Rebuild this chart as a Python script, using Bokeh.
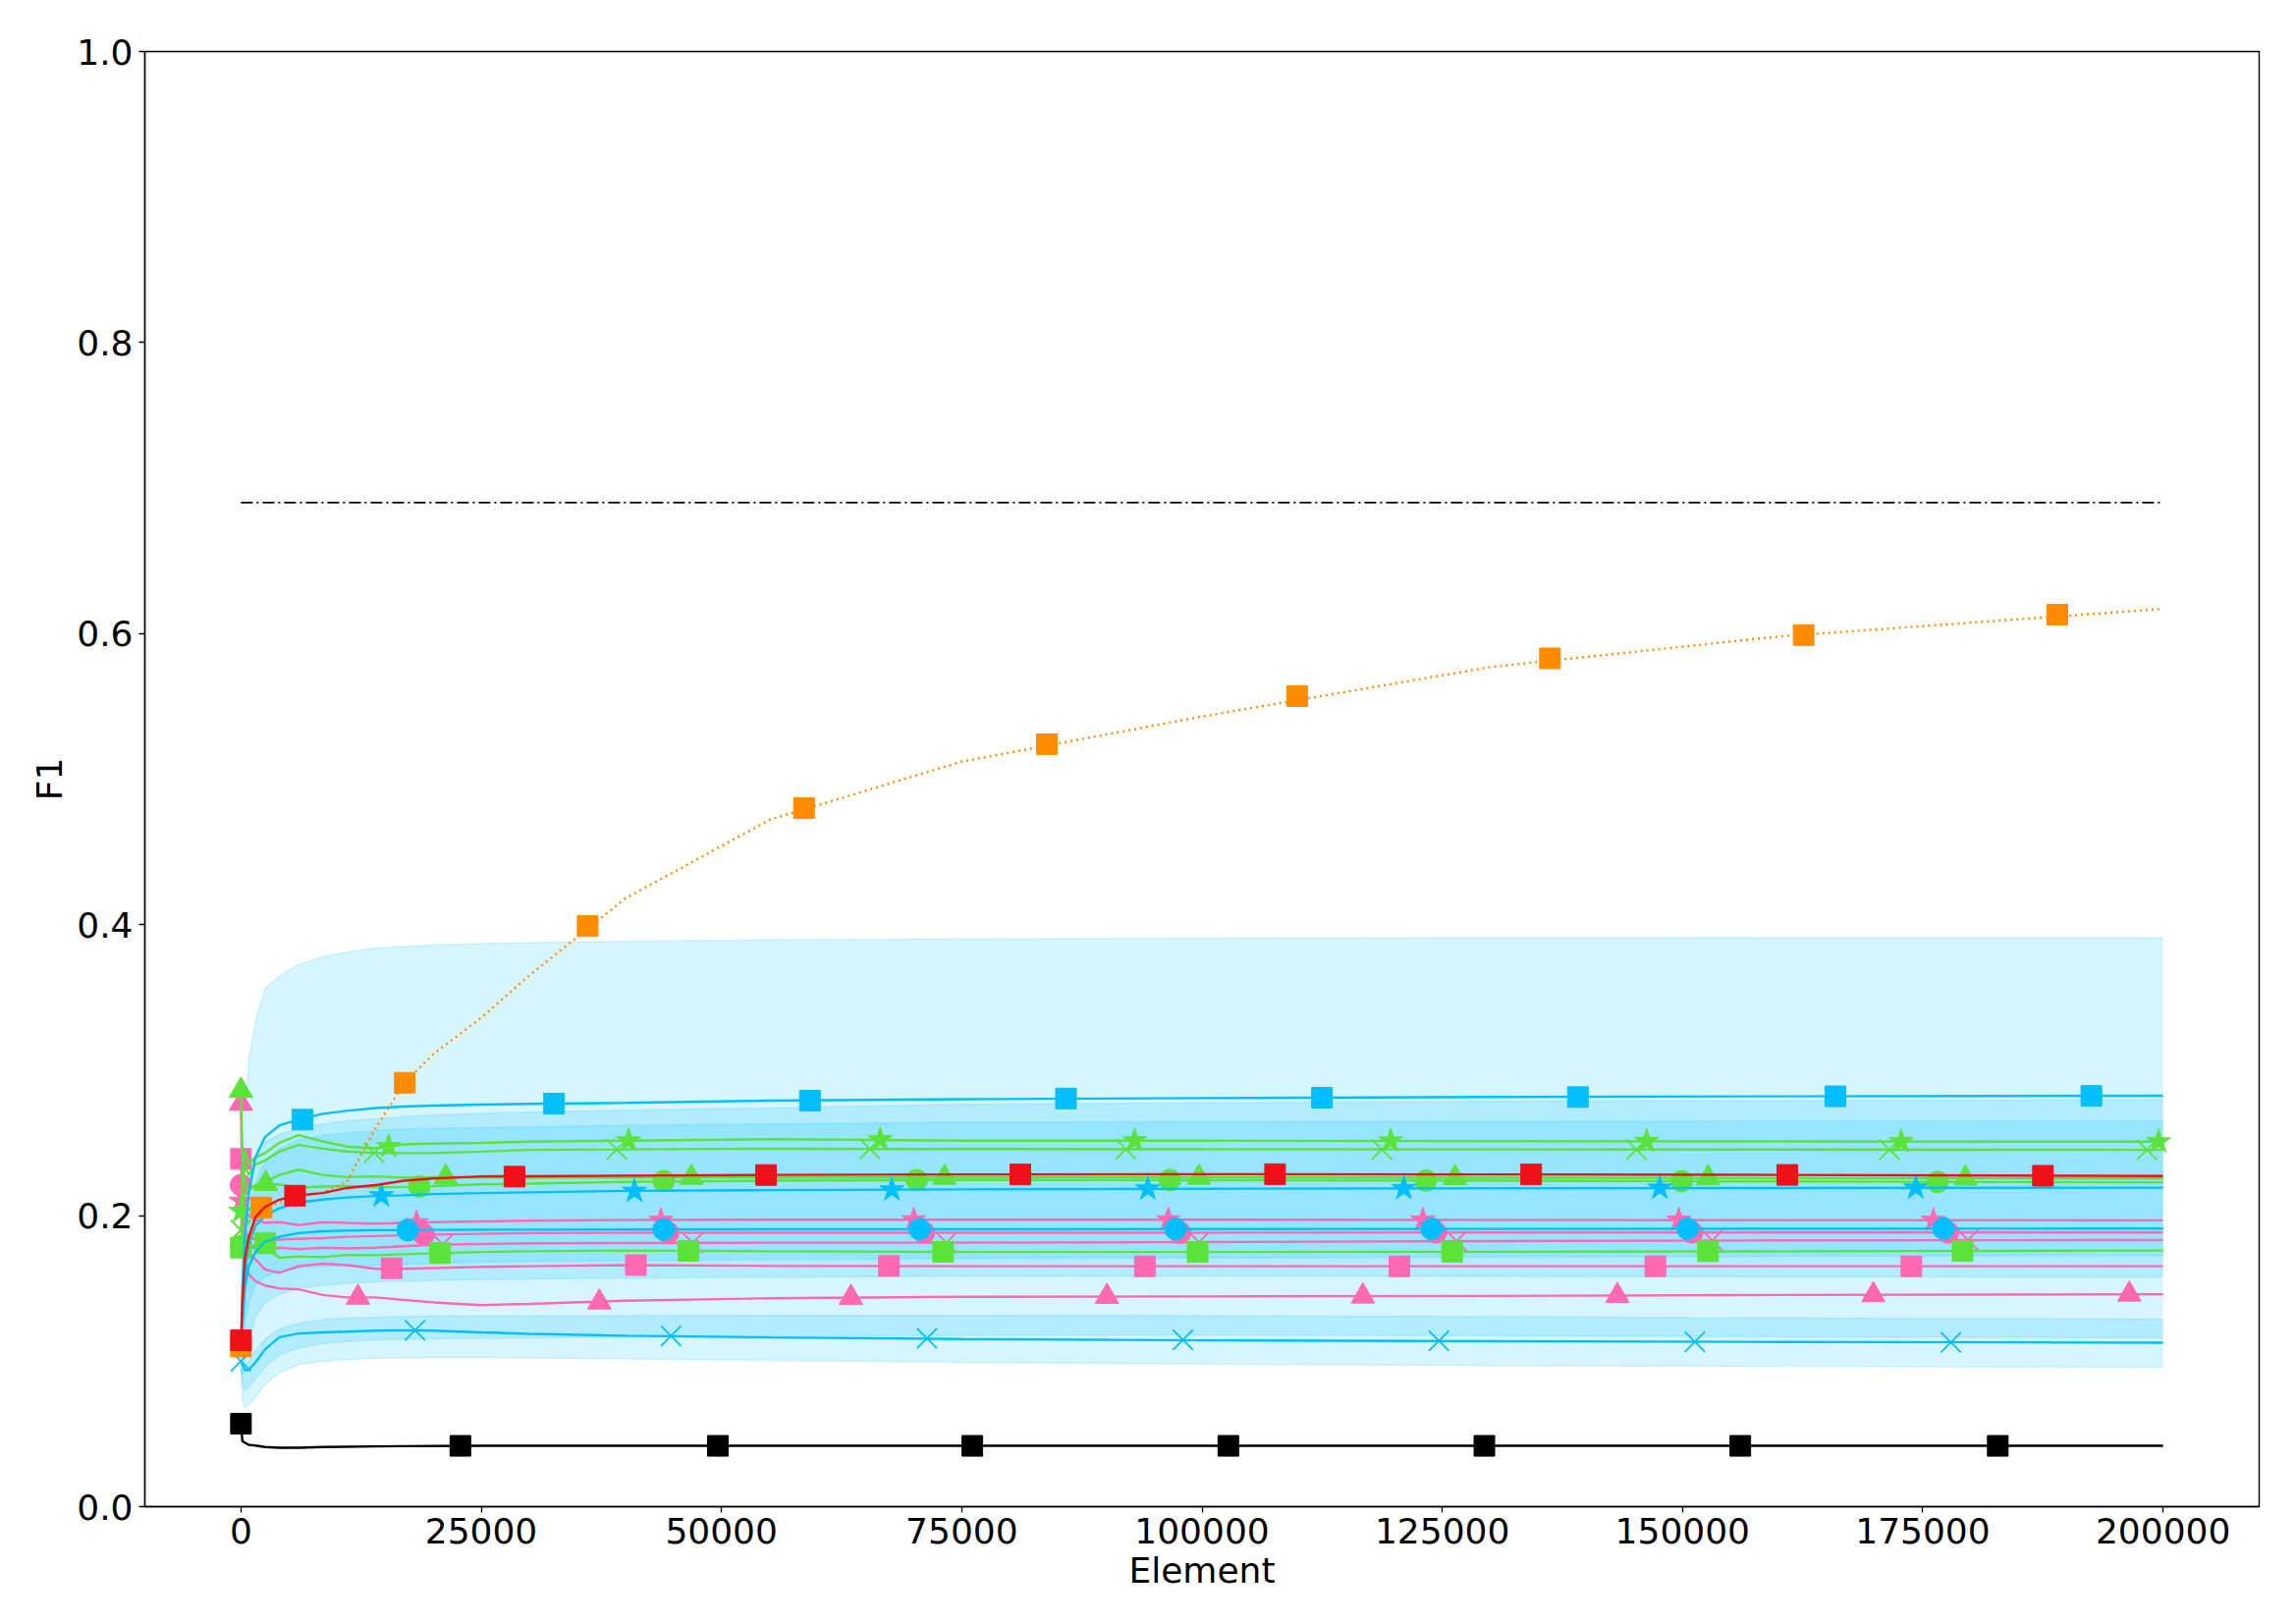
import numpy as np
from bokeh.plotting import figure
from bokeh.models import Range1d, FixedTicker, PrintfTickFormatter, BasicTickFormatter
from bokeh.embed import file_html
from bokeh.resources import INLINE

# ---------------- data ----------------
X = [0, 150, 400, 800, 1500, 2500, 4000, 6000, 8500, 11000, 14000, 17000, 20000,
     25000, 30000, 40000, 55000, 75000, 100000, 130000, 160000, 200000]

band_a_hi = [0.11, 0.20, 0.265, 0.306, 0.333, 0.356, 0.3646, 0.3725, 0.378, 0.381, 0.3838, 0.385, 0.386,
             0.3868, 0.3876, 0.3885, 0.3895, 0.3902, 0.3906, 0.3908, 0.391, 0.391]
band_a_lo = [0.095, 0.075, 0.068, 0.070, 0.075, 0.084, 0.092, 0.0975, 0.100, 0.101, 0.102, 0.1023, 0.1025,
             0.1025, 0.1022, 0.1015, 0.1005, 0.0992, 0.098, 0.097, 0.0963, 0.0958]
band_b_hi = [0.11, 0.16, 0.20, 0.225, 0.24, 0.25, 0.256, 0.26, 0.263, 0.265, 0.2665, 0.268, 0.269,
             0.2703, 0.2711, 0.2725, 0.274, 0.2765, 0.2775, 0.2785, 0.279, 0.2797]
band_b_lo = [0.095, 0.09, 0.10, 0.115, 0.13, 0.14, 0.146, 0.15, 0.152, 0.1535, 0.1545, 0.155, 0.1555,
             0.156, 0.1565, 0.157, 0.1578, 0.1584, 0.1584, 0.1582, 0.158, 0.1578]
band_c_hi = [0.105, 0.14, 0.175, 0.20, 0.222, 0.237, 0.246, 0.252, 0.255, 0.257, 0.2585, 0.2595, 0.26,
             0.2605, 0.261, 0.262, 0.263, 0.2642, 0.2645, 0.2648, 0.265, 0.265]
band_c_lo = [0.10, 0.11, 0.125, 0.14, 0.152, 0.158, 0.162, 0.164, 0.165, 0.1655, 0.166, 0.1665, 0.167,
             0.168, 0.1685, 0.169, 0.1698, 0.1706, 0.171, 0.1716, 0.172, 0.1726]
band_d_hi = [0.10, 0.098, 0.097, 0.10, 0.107, 0.115, 0.122, 0.126, 0.1285, 0.1295, 0.13, 0.1305, 0.131,
             0.131, 0.131, 0.1312, 0.1314, 0.1314, 0.1312, 0.1305, 0.1297, 0.1287]
band_d_lo = [0.095, 0.085, 0.08, 0.082, 0.088, 0.096, 0.104, 0.109, 0.112, 0.1135, 0.1145, 0.115, 0.1155,
             0.1158, 0.116, 0.1165, 0.1172, 0.1178, 0.1179, 0.1175, 0.1168, 0.1161]

pink_tri = [0.277, 0.200, 0.170, 0.160, 0.155, 0.152, 0.150, 0.1494, 0.1455, 0.1438, 0.1438, 0.142, 0.1404,
            0.1385, 0.1393, 0.1415, 0.1432, 0.1442, 0.1445, 0.1448, 0.1455, 0.146]
pink_tri_mx = [0, 12176, 37290, 63468, 90103, 116737, 143220, 169855, 196491]
pink_tri_my = [0.277, 0.1438, 0.1405, 0.1437, 0.1444, 0.1446, 0.1450, 0.1455, 0.1459]

pink_sq = [0.239, 0.200, 0.185, 0.175, 0.170, 0.163, 0.1607, 0.1652, 0.167, 0.166, 0.1635, 0.1635, 0.164,
           0.1648, 0.1652, 0.166, 0.1655, 0.1652, 0.1652, 0.1652, 0.1652, 0.1652]
pink_sq_mx = [0, 15677, 41094, 67425, 94060, 120543, 147178, 173813]
pink_sq_my = [0.239, 0.1638, 0.166, 0.1654, 0.1652, 0.1652, 0.1652, 0.1652]

pink_x = [0.190, 0.185, 0.180, 0.178, 0.178, 0.176, 0.178, 0.177, 0.178, 0.1775, 0.178, 0.179, 0.180,
          0.1805, 0.181, 0.1812, 0.1814, 0.1814, 0.1818, 0.1825, 0.183, 0.1832]
pink_x_mx = [0, 21000, 47000, 73400, 99680, 126500, 153100, 179700]
pink_x_my = [0.190, 0.1803, 0.1812, 0.1814, 0.1818, 0.1825, 0.183, 0.1832]

pink_circ = [0.221, 0.200, 0.190, 0.185, 0.184, 0.183, 0.1835, 0.184, 0.1845, 0.1855, 0.186, 0.1865, 0.187,
             0.1875, 0.188, 0.1882, 0.1883, 0.1883, 0.1883, 0.1884, 0.1884, 0.1884]
pink_circ_mx = [0, 19025, 44442, 71078, 97713, 124347, 150982, 177617]
pink_circ_my = [0.221, 0.187, 0.1882, 0.1883, 0.1883, 0.1884, 0.1884, 0.1884]

pink_star = [0.210, 0.215, 0.205, 0.200, 0.197, 0.195, 0.1955, 0.1935, 0.1955, 0.195, 0.1945, 0.195, 0.1955,
             0.196, 0.1965, 0.197, 0.1972, 0.1972, 0.1972, 0.197, 0.1969, 0.1968]
pink_star_mx = [0, 18264, 43682, 70012, 96495, 122978, 149613, 176095]
pink_star_my = [0.210, 0.1952, 0.1968, 0.1972, 0.1972, 0.1971, 0.197, 0.1969]

green_sq = [0.178, 0.190, 0.182, 0.178, 0.180, 0.178, 0.171, 0.172, 0.1715, 0.173, 0.1728, 0.1735, 0.1742,
            0.175, 0.1755, 0.176, 0.1755, 0.175, 0.175, 0.1752, 0.1755, 0.176]
green_sq_mx = [0, 2540, 20699, 46573, 73056, 99539, 126022, 152657, 179139]
green_sq_my = [0.178, 0.181, 0.1743, 0.1758, 0.1751, 0.175, 0.1752, 0.1755, 0.1757]

green_circ = [0.179, 0.205, 0.215, 0.218, 0.220, 0.221, 0.2215, 0.2192, 0.220, 0.2203, 0.2195, 0.2197, 0.2203,
              0.2215, 0.222, 0.2232, 0.224, 0.2245, 0.2243, 0.224, 0.2235, 0.2228]
green_circ_mx = [0, 18568, 43986, 70316, 96647, 123282, 149917, 176552]
green_circ_my = [0.179, 0.220, 0.2237, 0.2244, 0.2244, 0.2241, 0.2237, 0.2232]

green_tri = [0.286, 0.245, 0.222, 0.218, 0.221, 0.223, 0.228, 0.2316, 0.228, 0.2265, 0.227, 0.226, 0.2265,
             0.2262, 0.226, 0.2262, 0.2262, 0.2262, 0.2262, 0.226, 0.2258, 0.2255]
green_tri_mx = [0, 2587, 21308, 46878, 73208, 99691, 126326, 152657, 179444]
green_tri_my = [0.286, 0.222, 0.2264, 0.2262, 0.2262, 0.2262, 0.226, 0.2258, 0.2256]

green_x = [0.190, 0.215, 0.235, 0.228, 0.235, 0.238, 0.244, 0.2486, 0.246, 0.2441, 0.243, 0.243, 0.243,
           0.244, 0.2452, 0.2455, 0.246, 0.2458, 0.2456, 0.2455, 0.2454, 0.2452]
green_x_mx = [0, 13850, 39115, 65446, 92081, 118716, 145199, 171529, 198317]
green_x_my = [0.190, 0.2432, 0.2455, 0.2459, 0.2457, 0.2455, 0.2454, 0.2453, 0.2452]

green_star = [0.203, 0.230, 0.245, 0.235, 0.240, 0.243, 0.250, 0.2553, 0.251, 0.2475, 0.2463, 0.249, 0.2495,
              0.250, 0.2508, 0.2515, 0.2525, 0.2515, 0.2515, 0.2512, 0.251, 0.2508]
green_star_mx = [0, 15372, 40333, 66511, 92994, 119629, 146264, 172747, 199534]
green_star_my = [0.203, 0.2475, 0.2515, 0.2522, 0.2515, 0.2514, 0.2511, 0.2509, 0.2508]

blue_x = [0.100, 0.098, 0.094, 0.094, 0.099, 0.108, 0.1165, 0.119, 0.1198, 0.1203, 0.121, 0.1212, 0.121,
          0.1198, 0.1188, 0.1175, 0.1163, 0.1152, 0.1143, 0.1137, 0.1132, 0.1127]
blue_x_mx = [0, 18112, 44747, 71382, 98017, 124652, 151287, 177922]
blue_x_my = [0.100, 0.1212, 0.1173, 0.1156, 0.1146, 0.1139, 0.1133, 0.1129]

blue_circ = [0.103, 0.125, 0.150, 0.165, 0.175, 0.182, 0.1855, 0.188, 0.1893, 0.1897, 0.190, 0.190, 0.1902,
             0.1903, 0.1904, 0.1905, 0.1906, 0.1906, 0.1908, 0.1909, 0.191, 0.1911]
blue_circ_mx = [17351, 43986, 70621, 97256, 123891, 150526, 177161]
blue_circ_my = [0.190, 0.1905, 0.1907, 0.1908, 0.1909, 0.191, 0.1911]

blue_star = [0.105, 0.130, 0.160, 0.180, 0.193, 0.200, 0.205, 0.209, 0.211, 0.2125, 0.2135, 0.214, 0.2148,
             0.2155, 0.216, 0.217, 0.2175, 0.218, 0.2185, 0.2188, 0.219, 0.2192]
blue_star_mx = [14611, 40942, 67729, 94364, 121000, 147635, 174270]
blue_star_my = [0.2137, 0.2168, 0.2178, 0.2184, 0.2187, 0.219, 0.2191]

blue_sq = [0.107, 0.150, 0.185, 0.215, 0.240, 0.254, 0.262, 0.266, 0.270, 0.272, 0.274, 0.275, 0.2756,
           0.2763, 0.2768, 0.2775, 0.279, 0.280, 0.2808, 0.2815, 0.282, 0.2824]
blue_sq_mx = [6393, 32572, 59209, 85845, 112481, 139117, 165905, 192542]
blue_sq_my = [0.266, 0.277, 0.279, 0.2805, 0.281, 0.2815, 0.282, 0.2823]

orange = [0.110, 0.140, 0.165, 0.180, 0.196, 0.205, 0.209, 0.213, 0.216, 0.223, 0.260, 0.291, 0.311,
          0.336, 0.365, 0.418, 0.472, 0.512, 0.543, 0.577, 0.598, 0.617]
orange_mx = [0, 2131, 17046, 36071, 58600, 83862, 109900, 136200, 162600, 189000]
orange_my = [0.110, 0.2056, 0.2913, 0.399, 0.480, 0.524, 0.557, 0.583, 0.599, 0.613]

red = [0.114, 0.140, 0.170, 0.185, 0.199, 0.206, 0.211, 0.214, 0.2155, 0.219, 0.221, 0.224, 0.2255,
       0.227, 0.2271, 0.2275, 0.228, 0.2283, 0.2285, 0.2283, 0.228, 0.2272]
red_mx = [0, 5630, 28460, 54640, 81100, 107600, 134250, 160900, 187500]
red_my = [0.1143, 0.2137, 0.2268, 0.2279, 0.2283, 0.2285, 0.2283, 0.228, 0.2274]

black = [0.057, 0.045, 0.044, 0.0425, 0.042, 0.041, 0.0405, 0.0405, 0.041, 0.0412, 0.0414, 0.0416, 0.0417,
         0.0418, 0.0418, 0.0418, 0.0418, 0.0418, 0.0418, 0.0418, 0.0418, 0.0418]
black_mx = [0, 22830, 49620, 76100, 102740, 129380, 156010, 182800]
black_my = [0.057, 0.0418, 0.0418, 0.0418, 0.0418, 0.0418, 0.0418, 0.0418]

dashdot_x = [0, 200000]
dashdot_y = [0.69, 0.69]

x_ticks = [0, 25000, 50000, 75000, 100000, 125000, 150000, 175000, 200000]
y_ticks = [0.0, 0.2, 0.4, 0.6, 0.8, 1.0]

BLUE = "#00BFFF"
GREEN = "#5BE33C"
PINK = "#FF69B4"
RED = "#F0101A"
ORANGE = "#FF8C00"
BLACK = "#000000"
FONT = "DejaVu Sans"

# ---------------- figure ----------------
p = figure(width=2322, height=1637, output_backend="svg", toolbar_location=None,
           x_range=Range1d(-10000, 210000), y_range=Range1d(0, 1),
           min_border_left=147, min_border_right=22, min_border_top=52, min_border_bottom=103)
p.background_fill_color = "white"
p.border_fill_color = "white"
p.outline_line_color = "black"
p.outline_line_width = 1.4
p.grid.visible = False

for ax in (p.xaxis[0], p.yaxis[0]):
    ax.axis_line_color = "black"
    ax.axis_line_width = 1.4
    ax.major_tick_line_color = "black"
    ax.major_tick_line_width = 1.3
    ax.major_tick_in = 0
    ax.major_tick_out = 6
    ax.minor_tick_line_color = None
    ax.major_label_text_font = FONT
    ax.major_label_text_font_size = "36px"
    ax.major_label_text_color = "black"
    ax.axis_label_text_font = FONT
    ax.axis_label_text_font_size = "36px"
    ax.axis_label_text_font_style = "normal"
    ax.axis_label_text_color = "black"

p.xaxis.ticker = FixedTicker(ticks=x_ticks)
p.xaxis.formatter = BasicTickFormatter(use_scientific=False)
p.yaxis.ticker = FixedTicker(ticks=y_ticks)
p.yaxis.formatter = PrintfTickFormatter(format="%.1f")
p.xaxis.axis_label = "Element"
p.yaxis.axis_label = "F1"
p.xaxis.major_label_standoff = 5
p.yaxis.major_label_standoff = 6
p.xaxis.axis_label_standoff = 4
p.yaxis.axis_label_standoff = 4

# bands
for lo, hi in ((band_a_lo, band_a_hi), (band_b_lo, band_b_hi), (band_c_lo, band_c_hi), (band_d_lo, band_d_hi)):
    p.varea(x=X, y1=lo, y2=hi, fill_color=BLUE, fill_alpha=0.16)
    p.line(X, lo, line_color=BLUE, line_alpha=0.16, line_width=1.5)
    p.line(X, hi, line_color=BLUE, line_alpha=0.16, line_width=1.5)

MARKER_SIZE = {"square": 21, "circle": 22, "triangle": 24, "star": 26, "x": 29}


def series(ys, color, marker, mx, my, dash="solid", width=2.4):
    p.line(X, ys, line_color=color, line_width=width, line_dash=dash)
    if marker == "x":
        p.scatter(mx, my, marker="x", size=MARKER_SIZE["x"], line_color=color, line_width=1.8)
    else:
        p.scatter(mx, my, marker=marker, size=MARKER_SIZE[marker], fill_color=color,
                  line_color=color, line_width=1)


series(pink_tri, PINK, "triangle", pink_tri_mx, pink_tri_my)
series(pink_sq, PINK, "square", pink_sq_mx, pink_sq_my)
series(pink_x, PINK, "x", pink_x_mx, pink_x_my)
series(pink_circ, PINK, "circle", pink_circ_mx, pink_circ_my)
series(pink_star, PINK, "star", pink_star_mx, pink_star_my)

series(green_sq, GREEN, "square", green_sq_mx, green_sq_my)
series(green_circ, GREEN, "circle", green_circ_mx, green_circ_my)
series(green_tri, GREEN, "triangle", green_tri_mx, green_tri_my)
series(green_x, GREEN, "x", green_x_mx, green_x_my)
series(green_star, GREEN, "star", green_star_mx, green_star_my)

series(blue_x, BLUE, "x", blue_x_mx, blue_x_my)
series(blue_circ, BLUE, "circle", blue_circ_mx, blue_circ_my)
series(blue_star, BLUE, "star", blue_star_mx, blue_star_my)
series(blue_sq, BLUE, "square", blue_sq_mx, blue_sq_my)

series(orange, ORANGE, "square", orange_mx, orange_my, dash="2 4")
series(red, RED, "square", red_mx, red_my)
series(black, BLACK, "square", black_mx, black_my)

p.line(dashdot_x, dashdot_y, line_color=BLACK, line_width=1.8, line_dash="12 4 2 4")

open("out.html", "w").write(file_html(p, INLINE))
